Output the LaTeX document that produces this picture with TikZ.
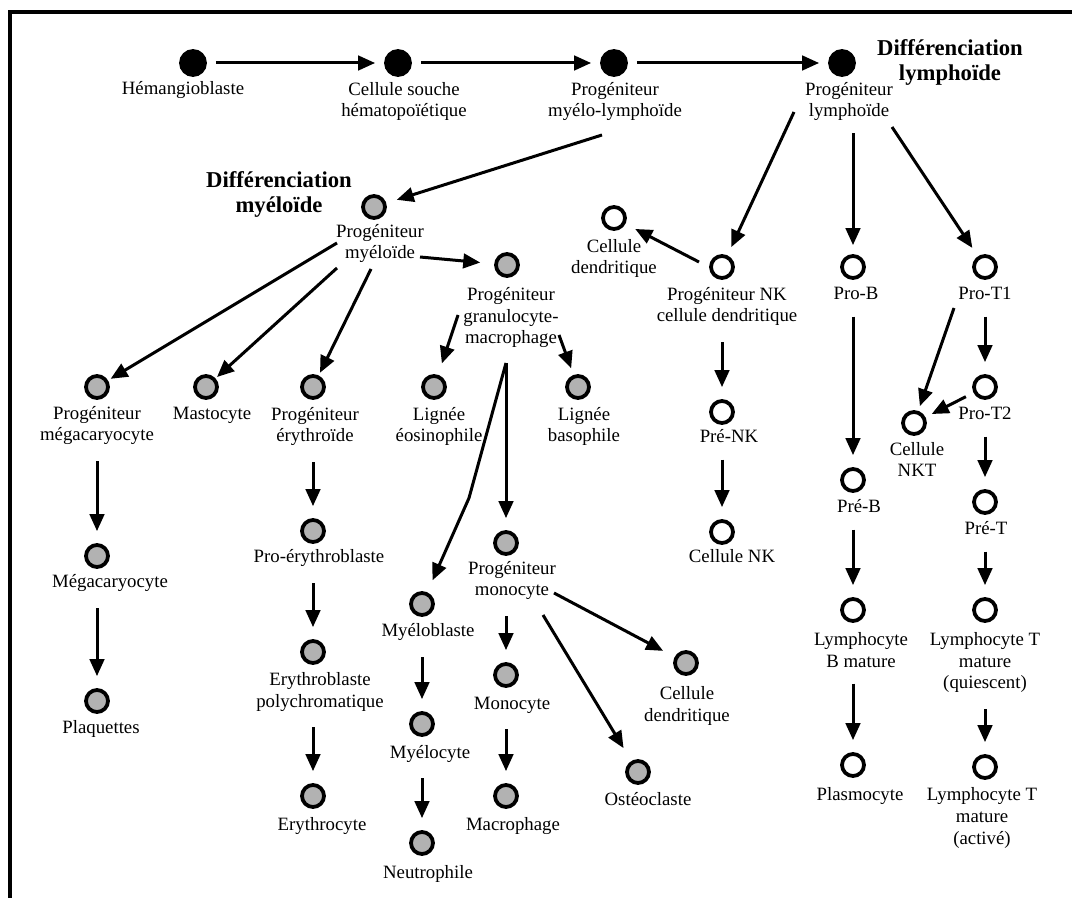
\documentclass[tikz,border=0pt]{standalone}
\usepackage{fontspec}
\setmainfont{Liberation Serif}
\usetikzlibrary{arrows.meta}
\definecolor{cellgray}{RGB}{178,178,178}
\tikzset{
  cell/.style={circle, draw=black, line width=0.75mm, minimum size=4.4mm, inner sep=0pt},
  stem/.style={cell, fill=black, minimum size=4.8mm},
  myelo/.style={cell, fill=cellgray},
  lympho/.style={cell, fill=white},
  lbl/.style={align=center, inner sep=0pt, anchor=base, font=\fontsize{10.7}{12.5}\selectfont},
  heading/.style={lbl, font=\fontsize{12.9}{14.6}\selectfont\bfseries},
  arr/.style={-{Triangle[length=3.4mm,width=2.9mm]}, line width=0.6mm},
  down/.style={arr, shorten <=3.2mm, shorten >=2.4mm},
}
\begin{document}
\begin{tikzpicture}[x=0.2mm, y=-0.2mm]
    \useasboundingbox (0,0) rectangle (1072,898);
    \draw[line width=0.8mm] (10,910) -- (10,12) -- (1085,12);

    % cells
    \foreach \n/\x/\y in {hemangio/193/63, hsc/398/63, mlp/614/63, lymp/842/63}
        \node[stem] (\n) at (\x,\y) {};
    \foreach \n/\x/\y in {myep/374/207, gmp/507/265, megp/97/387, masto/206/387, eryp/313/387,
        eosi/434/387, baso/578/387, megak/97/556, plaq/97/701, proery/313/531, eryb/313/652,
        erycy/313/796, myeb/422/604, myec/422/724, neutro/422/843, monop/506/543, mono/506/675,
        macro/506/796, dcm/686/663, osteo/638/772}
        \node[myelo] (\n) at (\x,\y) {};
    \foreach \n/\x/\y in {dcl/614/218, nkp/722/267, prenk/722/412, nk/722/532, prob/853/267,
        preb/853/480, lbm/853/610, plasmo/853/765, prot1/985/267, prot2/985/387, nkt/914/423,
        pret/985/502, ltq/985/610, lta/985/767}
        \node[lympho] (\n) at (\x,\y) {};

    % labels (anchored on the baseline of their last line)
    \node[heading] (difm) at (279,213) {Différenciation\\myéloïde};
    \node[heading] (difl) at (950,81) {Différenciation\\lymphoïde};
    \node[lbl] (hemangio-t) at (183,95) {Hémangioblaste};
    \node[lbl] (hsc-t) at (404,117) {Cellule souche\\hématopoïétique};
    \node[lbl] (mlp-t) at (615,117) {Progéniteur\\myélo-lymphoïde};
    \node[lbl] (lymp-t) at (849,117) {Progéniteur\\lymphoïde};
    \node[lbl] (myep-t) at (380,259) {Progéniteur\\myéloïde};
    \node[lbl] (gmp-t) at (511,344) {Progéniteur\\granulocyte-\\macrophage};
    \node[lbl] (megp-t) at (97,441) {Progéniteur\\mégacaryocyte};
    \node[lbl] (masto-t) at (212,420) {Mastocyte};
    \node[lbl] (eryp-t) at (315,442) {Progéniteur\\érythroïde};
    \node[lbl] (eosi-t) at (439,442) {Lignée\\éosinophile};
    \node[lbl] (baso-t) at (584,442) {Lignée\\basophile};
    \node[lbl] (megak-t) at (110,588) {Mégacaryocyte};
    \node[lbl] (plaq-t) at (101,733) {Plaquettes};
    \node[lbl] (proery-t) at (319,563) {Pro-érythroblaste};
    \node[lbl] (eryb-t) at (320,707) {Erythroblaste\\polychromatique};
    \node[lbl] (erycy-t) at (322,830) {Erythrocyte};
    \node[lbl] (myeb-t) at (428,637) {Myéloblaste};
    \node[lbl] (myec-t) at (430,758) {Myélocyte};
    \node[lbl] (neutro-t) at (428,878) {Neutrophile};
    \node[lbl] (monop-t) at (512,596) {Progéniteur\\monocyte};
    \node[lbl] (mono-t) at (512,709) {Monocyte};
    \node[lbl] (macro-t) at (513,830) {Macrophage};
    \node[lbl] (dcm-t) at (687,721) {Cellule\\dendritique};
    \node[lbl] (osteo-t) at (648,805) {Ostéoclaste};
    \node[lbl] (dcl-t) at (614,274) {Cellule\\dendritique};
    \node[lbl] (nkp-t) at (727,322) {Progéniteur NK\\cellule dendritique};
    \node[lbl] (prenk-t) at (729,443) {Pré-NK};
    \node[lbl] (nk-t) at (732,563) {Cellule NK};
    \node[lbl] (prob-t) at (856,300) {Pro-B};
    \node[lbl] (preb-t) at (859,513) {Pré-B};
    \node[lbl] (lbm-t) at (861,667) {Lymphocyte\\B mature};
    \node[lbl] (plasmo-t) at (860,800) {Plasmocyte};
    \node[lbl] (prot1-t) at (985,300) {Pro-T1};
    \node[lbl] (prot2-t) at (985,420) {Pro-T2};
    \node[lbl] (nkt-t) at (917,477) {Cellule\\NKT};
    \node[lbl] (pret-t) at (986,535) {Pré-T};
    \node[lbl] (ltq-t) at (985,689) {Lymphocyte T\\mature\\(quiescent)};
    \node[lbl] (lta-t) at (982,844) {Lymphocyte T\\mature\\(activé)};

    % arrow starts beside the labels
    \coordinate (mlp-o) at (602,135);
    \coordinate (myep-o1) at (337,243); \coordinate (myep-o2) at (337,268);
    \coordinate (myep-o3) at (371,269); \coordinate (myep-o4) at (420,257);
    \coordinate (gmp-o1) at (458,315); \coordinate (gmp-o2) at (559,335);
    \coordinate (gmp-o3) at (506,363); \coordinate (gmp-bend) at (469,498);
    \coordinate (monop-o1) at (554,593); \coordinate (monop-o2) at (543,615);
    \coordinate (lymp-o1) at (794,112); \coordinate (lymp-o2) at (892,127);
    \coordinate (nkp-o) at (699,262); \coordinate (prot1-o) at (954,308);

    % arrows
    \foreach \a/\b in {hemangio/hsc, hsc/mlp, mlp/lymp}
        \draw[arr, shorten <=1.8mm, shorten >=1.8mm] (\a) -- (\b);
    \draw[arr, shorten >=2.2mm] (mlp-o) -- (myep);
    \draw[arr, shorten >=0.6mm] (myep-o1) -- (megp);
    \draw[arr, shorten >=0.4mm] (myep-o2) -- (masto);
    \draw[arr, shorten >=0.6mm] (myep-o3) -- (eryp);
    \draw[arr, shorten >=2.8mm] (myep-o4) -- (gmp);
    \draw[arr, shorten >=2.4mm] (gmp-o1) -- (eosi);
    \draw[arr, shorten >=1.4mm] (gmp-o2) -- (baso);
    \draw[arr, shorten >=2.4mm] (gmp-o3) -- (monop);
    \draw[arr, shorten >=2.6mm] (gmp-o3) -- (gmp-bend) -- (myeb);
    \draw[arr, shorten >=2.6mm] (monop-o1) -- (dcm);
    \draw[arr, shorten >=3mm] (monop-o2) -- (osteo);
    \draw[arr, shorten >=1.8mm] (lymp-o1) -- (nkp);
    \draw[arr, shorten <=2.4mm, shorten >=1.8mm] (lymp-t.south -| prob) -- (prob);
    \draw[arr, shorten >=2mm] (lymp-o2) -- (prot1);
    \draw[arr, shorten >=2.2mm] (nkp-o) -- (dcl);
    \draw[arr, shorten >=1mm] (prot1-o) -- (nkt);
    \draw[arr, shorten <=1.7mm, shorten >=1.4mm] (prot2) -- (nkt);
    \foreach \a/\b in {megp/megak, megak/plaq, eryp/proery, proery/eryb, eryb/erycy,
        myeb/myec, myec/neutro, monop/mono, mono/macro, nkp/prenk, prenk/nk, prob/preb,
        preb/lbm, lbm/plasmo, prot1/prot2, prot2/pret, pret/ltq, ltq/lta}
        \draw[down] (\a-t.south -| \b) -- (\b);
\end{tikzpicture}
\end{document}
